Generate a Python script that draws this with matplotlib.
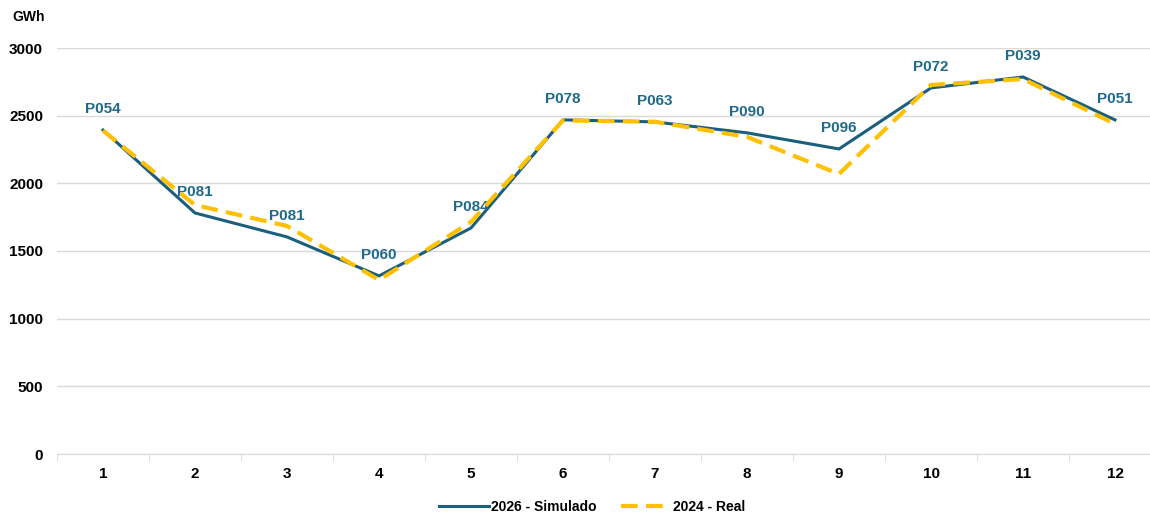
import matplotlib.pyplot as plt

plt.rcParams['font.family'] = ['Liberation Sans', 'DejaVu Sans']

meses = list(range(1, 13))
simulado_2026 = [2394, 1781, 1604, 1316, 1670, 2469, 2454, 2373, 2254, 2705, 2786, 2469]
real_2024 = [2390, 1840, 1685, 1286, 1715, 2465, 2455, 2343, 2069, 2727, 2771, 2439]
etiquetas = ['P054', 'P081', 'P081', 'P060', 'P084', 'P078', 'P063', 'P090', 'P096', 'P072', 'P039', 'P051']

azul = '#1b5e7e'
amarillo = '#ffc000'

fig = plt.figure(figsize=(11.5, 5.14), dpi=100)
ax = fig.add_axes([57 / 1150, 60 / 514, 1104 / 1150, 406 / 514])

ax.plot(meses, simulado_2026, color=azul, lw=2.2, label='2026 - Simulado', zorder=3)
ax.plot(meses, real_2024, color=amarillo, lw=3, ls=(0, (4, 2)), label='2024 - Real', zorder=4)

for x, y, t in zip(meses, simulado_2026, etiquetas):
    ax.annotate(t, (x, y), xytext=(0, 10), textcoords='offset points', ha='center', va='bottom',
                fontsize=11, fontweight='bold', color='#1f6a8a')

ax.set_xlim(0.5, 12.5)
ax.set_ylim(0, 3000)
ax.set_yticks(range(0, 3001, 500))
ax.set_xticks(meses)
ax.set_xticks([i + 0.5 for i in range(0, 12)], minor=True)
ax.grid(axis='y', color='#d9d9d9', lw=1)
ax.set_axisbelow(True)
for s in ['left', 'right', 'top']:
    ax.spines[s].set_visible(False)
ax.spines['bottom'].set_color('#d9d9d9')
ax.tick_params(axis='y', length=0, pad=10, labelsize=11)
ax.tick_params(axis='x', which='major', length=0, pad=9, labelsize=11)
ax.tick_params(axis='x', which='minor', length=5, color='#d9d9d9')
for lab in ax.get_xticklabels() + ax.get_yticklabels():
    lab.set_fontweight('bold')

fig.text(12 / 1150, 1 - 17 / 514, 'GWh', fontsize=10, fontweight='bold', va='center')

leg = fig.legend(loc='center', bbox_to_anchor=(0.515, 1 - 507 / 514), ncol=2, frameon=False,
                 prop={'weight': 'bold', 'size': 10}, handlelength=3.6, columnspacing=1.8,
                 handletextpad=0.15)

plt.savefig('out.png', dpi=100)
